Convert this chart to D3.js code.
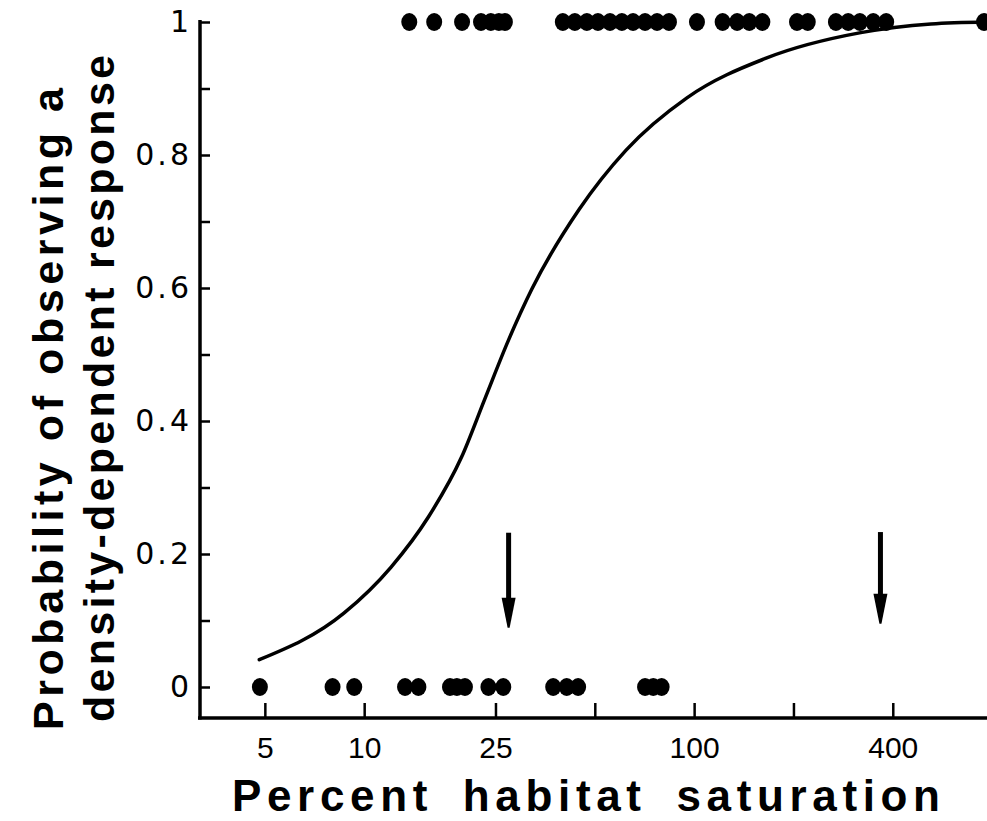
<!DOCTYPE html>
<html>
<head>
<meta charset="utf-8">
<script src="https://cdn.jsdelivr.net/npm/d3@7/dist/d3.min.js"></script>
<style>
	body { margin: 0; background: #fff; }
	svg { display: block; }
</style>
</head>
<body>
<div id="chart"></div>
<script>
// axis ticks
const xTicks = [5, 10, 25, 50, 100, 200, 400];
const xTickLabels = [5, 10, 25, 100, 400];
const yTicks = [0, 0.1, 0.2, 0.3, 0.4, 0.5, 0.6, 0.7, 0.8, 0.9, 1];
const yTickLabels = [0, 0.2, 0.4, 0.6, 0.8, 1];

// observations: response seen (1) and not seen (0), % habitat saturation
const responseSeen = [13.7, 16.3, 19.8, 22.6, 24.2, 25.6, 26.7, 40.0, 43.5, 47.3, 51.1, 55.6, 60.4, 65.3, 71.0, 77.2, 83.9,
	102, 122, 135, 147, 161, 205, 221, 269, 293, 318, 349, 382, 756];
const responseNotSeen = [4.83, 8.02, 9.33, 13.3, 14.6, 18.2, 19.1, 20.2, 23.8, 26.4, 37.4, 41.1, 44.5, 71.0, 75.2, 79.7];

// fitted curve
const curveSat = [4.81, 8.68, 12.05, 15.67, 19.7, 23.2, 27.4, 32.2, 44.8, 62.1, 95.1, 166, 320, 522, 772];
const curveProb = [0.041, 0.111, 0.180, 0.256, 0.345, 0.433, 0.522, 0.598, 0.718, 0.807, 0.886, 0.946, 0.984, 0.997, 1.0];

// arrows
const arrowSat = [27.4, 367];
const arrowTop = [0.232, 0.233];
const arrowTip = [0.089, 0.095];

const width = 987;
const height = 821;
const xDomain = [3.18, 772];

const svg = d3.select('#chart').append('svg')
	.attr('width', width)
	.attr('height', height);

const x = d3.scaleLog()
	.domain(xDomain)
	.range([200, 987]);

const y = d3.scaleLinear()
	.domain([0, 1])
	.range([687, 22]);

const axisY = 718;

// x axis
const xAxis = d3.axisBottom(x)
	.tickValues(xTicks)
	.tickSize(-15)
	.tickPadding(19)
	.tickFormat(d => xTickLabels.includes(d) ? d : '');

const gx = svg.append('g')
	.attr('transform', `translate(0, ${axisY})`)
	.call(xAxis);
gx.select('.domain').remove();
gx.selectAll('line').attr('stroke', '#000').attr('stroke-width', 2.5);
gx.selectAll('text')
	.attr('fill', '#000')
	.style('font-family', '"Liberation Sans", Arial, sans-serif')
	.style('font-size', '30px');

// y axis
const yAxis = d3.axisLeft(y)
	.tickValues(yTicks)
	.tickSize(-10)
	.tickPadding(8)
	.tickFormat(d => yTickLabels.includes(d) ? d3.format('')(d) : '');

const gy = svg.append('g')
	.attr('transform', 'translate(200, 0)')
	.call(yAxis);
gy.select('.domain').remove();
gy.selectAll('line').attr('stroke', '#000').attr('stroke-width', 2.5);
gy.selectAll('text')
	.attr('fill', '#000')
	.style('font-family', '"DejaVu Sans", sans-serif')
	.style('font-size', '30px')
	.style('letter-spacing', '3px');

// axis lines
svg.append('line')
	.attr('x1', 200).attr('x2', 200)
	.attr('y1', y(1) - 2).attr('y2', axisY + 1.5)
	.attr('stroke', '#000').attr('stroke-width', 3.5);
svg.append('line')
	.attr('x1', 198).attr('x2', width)
	.attr('y1', axisY).attr('y2', axisY)
	.attr('stroke', '#000').attr('stroke-width', 3.5);

// curve
const curvePts = curveSat.map((s, i) => [s, curveProb[i]]);
const line = d3.line()
	.x(d => x(d[0]))
	.y(d => y(d[1]))
	.curve(d3.curveMonotoneX);

svg.append('path')
	.datum(curvePts)
	.attr('d', line)
	.attr('fill', 'none')
	.attr('stroke', '#000')
	.attr('stroke-width', 3.5)
	.attr('stroke-linecap', 'round');

// points
svg.append('g')
	.selectAll('ellipse')
	.data(responseSeen.map(s => [s, 1]).concat(responseNotSeen.map(s => [s, 0])))
	.enter()
	.append('ellipse')
		.attr('cx', d => x(d[0]))
		.attr('cy', d => y(d[1]))
		.attr('rx', 8)
		.attr('ry', 9)
		.attr('fill', '#000');

// arrows
const arrows = svg.append('g');
arrowSat.forEach((s, i) => {
	const ax = x(s);
	const y0 = y(arrowTop[i]);
	const y1 = y(arrowTip[i]);
	arrows.append('line')
		.attr('x1', ax).attr('x2', ax)
		.attr('y1', y0).attr('y2', y1 - 22)
		.attr('stroke', '#000').attr('stroke-width', 5);
	arrows.append('path')
		.attr('d', `M${ax - 7},${y1 - 30} L${ax + 7},${y1 - 30} L${ax + 1},${y1} L${ax - 1},${y1} Z`)
		.attr('fill', '#000');
});

// axis titles
svg.append('text')
	.attr('x', 232)
	.attr('y', 811)
	.attr('textLength', 708)
	.attr('lengthAdjust', 'spacing')
	.style('font-family', '"Liberation Sans", Arial, sans-serif')
	.style('font-weight', 'bold')
	.style('font-size', '44px')
	.style('word-spacing', '12px')
	.text('Percent habitat saturation');

const yTitle = svg.append('g')
	.attr('transform', 'rotate(-90)')
	.style('font-family', '"Liberation Sans", Arial, sans-serif')
	.style('font-weight', 'bold')
	.style('font-size', '43px');

yTitle.append('text')
	.attr('x', -730)
	.attr('y', 63)
	.attr('textLength', 642)
	.attr('lengthAdjust', 'spacing')
	.text('Probability of observing a');

yTitle.append('text')
	.attr('x', -722)
	.attr('y', 114)
	.attr('textLength', 667)
	.attr('lengthAdjust', 'spacing')
	.text('density-dependent response');
</script>
</body>
</html>
